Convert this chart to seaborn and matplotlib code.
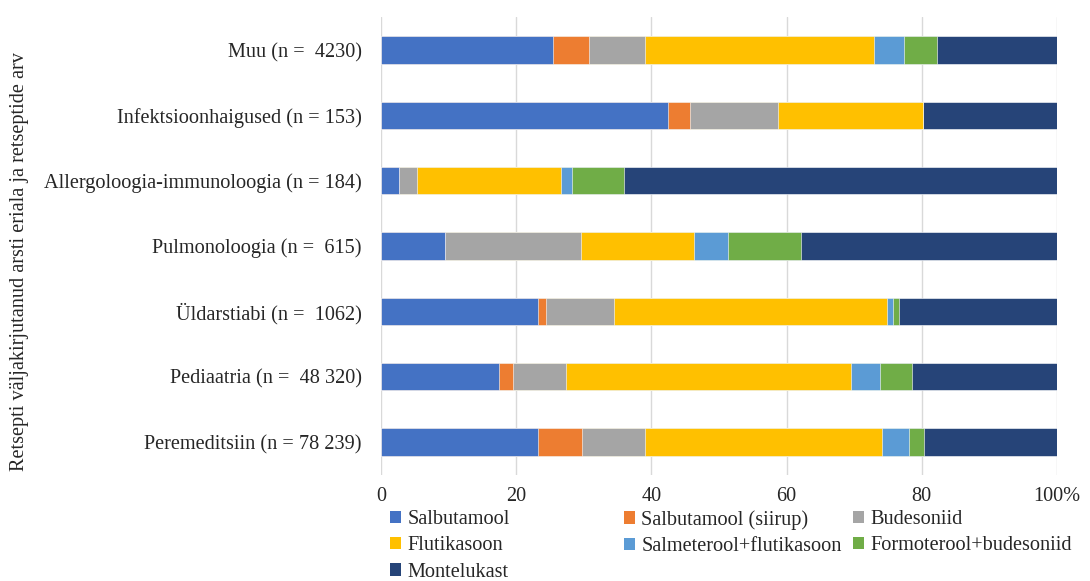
import numpy as np
import pandas as pd
import matplotlib
matplotlib.use("Agg")
import matplotlib.pyplot as plt
from matplotlib.patches import Patch
import seaborn as sns

# Prescribing specialty (with number of prescriptions), top to bottom
specialties = [
    "Muu (n =  4230)",
    "Infektsioonhaigused (n = 153)",
    "Allergoloogia-immunoloogia (n = 184)",
    "Pulmonoloogia (n =  615)",
    "Üldarstiabi (n =  1062)",
    "Pediaatria (n =  48 320)",
    "Peremeditsiin (n = 78 239)",
]

# Share of prescriptions (%) per medicine, one value per specialty
salbutamool = [25.5, 42.5, 2.6, 9.4, 23.3, 17.5, 23.3]
salbutamool_siirup = [5.3, 3.2, 0.0, 0.1, 1.1, 2.0, 6.4]
budesoniid = [8.3, 13.1, 2.8, 20.1, 10.0, 7.9, 9.3]
flutikasoon = [33.9, 21.4, 21.2, 16.7, 40.5, 42.1, 35.1]
salmeterool_flutikasoon = [4.3, 0.0, 1.6, 5.1, 0.8, 4.3, 4.0]
formoterool_budesoniid = [5.0, 0.0, 7.7, 10.7, 0.9, 4.7, 2.3]
montelukast = [17.7, 19.8, 64.1, 37.9, 23.4, 21.5, 19.6]

medicines = [
    "Salbutamool",
    "Salbutamool (siirup)",
    "Budesoniid",
    "Flutikasoon",
    "Salmeterool+flutikasoon",
    "Formoterool+budesoniid",
    "Montelukast",
]
series = [salbutamool, salbutamool_siirup, budesoniid, flutikasoon,
          salmeterool_flutikasoon, formoterool_budesoniid, montelukast]
colors = ["#4472C4", "#ED7D31", "#A5A5A5", "#FFC000",
          "#5B9BD5", "#70AD47", "#264478"]

xticks = [0, 20, 40, 60, 80, 100]
xticklabels = ["0", "20", "40", "60", "80", "100%"]

sns.set_theme(style="white")
plt.rcParams["font.family"] = ["Liberation Serif", "DejaVu Serif"]

FS = 14.6

df = pd.DataFrame(dict(zip(medicines, series)), index=specialties)
cum = df.cumsum(axis=1)

fig = plt.figure(figsize=(10.9, 5.81), dpi=100)
ax = fig.add_axes([0.3495, 0.183, 0.6202, 0.787])

# Stacked bars: draw cumulative totals from the outermost segment inwards
for med, col in zip(reversed(medicines), reversed(colors)):
    sns.barplot(x=cum[med].values, y=specialties, orient="h", color=col,
                width=0.42, ax=ax, order=specialties, saturation=1,
                edgecolor="white", linewidth=0.4)

ax.set_xlim(0, 100)
ax.set_ylim(6.5, -0.5)
ax.set_xticks(xticks)
ax.set_xticklabels(xticklabels, fontsize=FS)
ax.tick_params(axis="y", labelsize=FS, length=0, pad=14)
ax.tick_params(axis="x", length=0, pad=9)
ax.set_axisbelow(True)
ax.xaxis.grid(True, color="#D9D9D9", linewidth=1)
for s in ax.spines.values():
    s.set_visible(False)
ax.set_xlabel("")
ax.set_ylabel("")

fig.text(20 / 1090, 1 - 262 / 581,
         "Retsepti väljakirjutanud arsti eriala ja retseptide arv",
         rotation=90, ha="center", va="center", fontsize=FS)

# Legend laid out in three fixed columns
columns = [[0, 3, 6], [1, 4], [2, 5]]
col_x = [390 / 1090, 624 / 1090, 853 / 1090]
for idxs, x in zip(columns, col_x):
    handles = [Patch(facecolor=colors[i], edgecolor="none") for i in idxs]
    labels = [medicines[i] for i in idxs]
    fig.legend(handles, labels, loc="upper left",
               bbox_to_anchor=(x, 1 - 510 / 581), frameon=False,
               fontsize=FS, handlelength=0.55, handleheight=0.55,
               handletextpad=0.3, labelspacing=0.36, borderpad=0,
               borderaxespad=0)

fig.savefig("out.png", dpi=100, facecolor="white")
